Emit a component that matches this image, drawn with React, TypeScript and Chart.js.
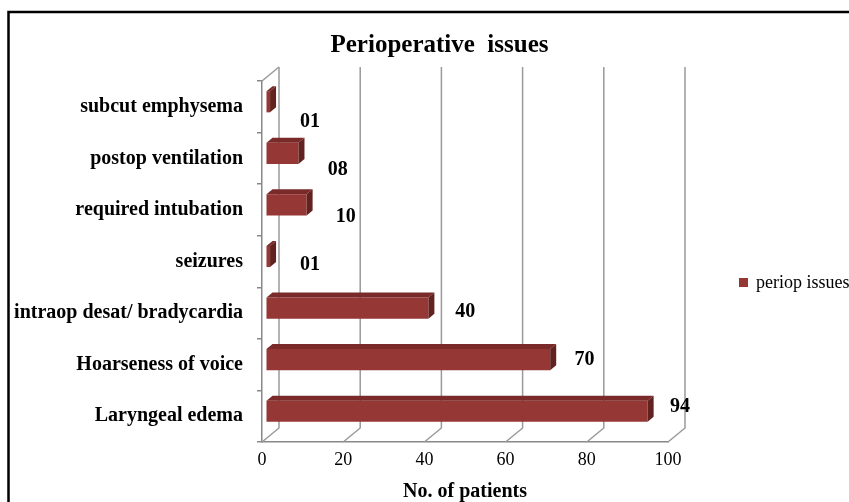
import React, { useEffect, useRef } from 'react';
import { Chart, registerables } from 'chart.js';

Chart.register(...registerables);

// ---- data ----
const categories = [
  'subcut emphysema',
  'postop ventilation',
  'required intubation',
  'seizures',
  'intraop desat/ bradycardia',
  'Hoarseness of voice',
  'Laryngeal edema',
];
const values = [1, 8, 10, 1, 40, 70, 94];
const seriesName = 'periop issues';
const xTicks = [0, 20, 40, 60, 80, 100];
const chartTitle = 'Perioperative  issues';
const xAxisTitle = 'No. of patients';

// ---- style ----
const FONT = "'Liberation Serif', 'Times New Roman', serif";
const FRONT = '#953735';
const TOPC = '#7a2b29';
const SIDE = '#612220';
const WALL = '#9a9a9a';
const AXIS = '#888888';
const DEPTH = { dx: 17, dy: -14 };
const SHIFT = { dx: 4, dy: -5 };
const BDEPTH = { dx: 6, dy: -5 };

const threeD = {
  id: 'threeD',
  beforeDraw(chart: any) {
    const { ctx, width, height } = chart;
    ctx.save();
    ctx.fillStyle = '#ffffff';
    ctx.fillRect(0, 0, width, height);
    ctx.strokeStyle = '#000000';
    ctx.lineWidth = 2.5;
    ctx.beginPath();
    ctx.moveTo(8.5, height + 5);
    ctx.lineTo(8.5, 12);
    ctx.lineTo(width + 5, 12);
    ctx.stroke();
    ctx.restore();
  },
  beforeDatasetsDraw(chart: any) {
    const { ctx, chartArea: a, scales } = chart;
    const x = scales.x;
    ctx.save();
    ctx.strokeStyle = WALL;
    ctx.lineWidth = 1.5;
    ctx.beginPath();
    ctx.moveTo(a.left, a.top);
    ctx.lineTo(a.left + DEPTH.dx, a.top + DEPTH.dy);
    ctx.stroke();
    xTicks.forEach((v) => {
      const px = x.getPixelForValue(v);
      ctx.beginPath();
      ctx.moveTo(px, a.bottom);
      ctx.lineTo(px + DEPTH.dx, a.bottom + DEPTH.dy);
      ctx.lineTo(px + DEPTH.dx, a.top + DEPTH.dy);
      ctx.stroke();
    });
    ctx.restore();
    ctx.save();
    ctx.translate(SHIFT.dx, SHIFT.dy);
  },
  afterDatasetsDraw(chart: any) {
    const { ctx, chartArea: a } = chart;
    const meta = chart.getDatasetMeta(0);
    meta.data.forEach((el: any) => {
      const { x, y, base, height } = el.getProps(['x', 'y', 'base', 'height'], true);
      const t = y - height / 2;
      const b = y + height / 2;
      ctx.fillStyle = TOPC;
      ctx.beginPath();
      ctx.moveTo(base, t);
      ctx.lineTo(x, t);
      ctx.lineTo(x + BDEPTH.dx, t + BDEPTH.dy);
      ctx.lineTo(base + BDEPTH.dx, t + BDEPTH.dy);
      ctx.closePath();
      ctx.fill();
      ctx.fillStyle = SIDE;
      ctx.beginPath();
      ctx.moveTo(x, t);
      ctx.lineTo(x + BDEPTH.dx, t + BDEPTH.dy);
      ctx.lineTo(x + BDEPTH.dx, b + BDEPTH.dy);
      ctx.lineTo(x, b);
      ctx.closePath();
      ctx.fill();
    });
    ctx.restore();

    // data labels
    ctx.save();
    ctx.fillStyle = '#000';
    ctx.font = `bold 20px ${FONT}`;
    ctx.textAlign = 'center';
    ctx.textBaseline = 'middle';
    const mid = (a.top + a.bottom) / 2;
    meta.data.forEach((el: any, i: number) => {
      const v = values[i];
      const { x, y } = el.getProps(['x', 'y'], true);
      const lx = x + SHIFT.dx + 40 - 8 * (v / 100);
      const ly = y + 3 - 0.08 * (y - mid);
      ctx.fillText(String(v).padStart(2, '0'), lx, ly);
    });
    ctx.restore();

    // legend
    ctx.save();
    ctx.fillStyle = FRONT;
    ctx.fillRect(739, 278, 9, 9);
    ctx.fillStyle = '#000';
    ctx.font = `18px ${FONT}`;
    ctx.textAlign = 'left';
    ctx.textBaseline = 'middle';
    ctx.fillText(seriesName, 756, 283);
    ctx.restore();
  },
};

export default function App() {
  const ref = useRef<HTMLCanvasElement | null>(null);
  useEffect(() => {
    if (!ref.current) return;
    const chart = new Chart(ref.current, {
      type: 'bar',
      data: {
        labels: categories,
        datasets: [
          {
            label: seriesName,
            data: values,
            backgroundColor: FRONT,
            barPercentage: 0.41,
            categoryPercentage: 1,
            yAxisID: 'y',
            xAxisID: 'x',
          },
        ],
      },
      options: {
        indexAxis: 'y',
        animation: false,
        responsive: false,
        devicePixelRatio: 1,
        events: [],
        layout: { padding: { left: 0, right: -30, top: 0, bottom: 0 } },
        plugins: {
          legend: { display: false },
          tooltip: { enabled: false },
          title: {
            display: true,
            text: chartTitle,
            color: '#000',
            font: { family: FONT, size: 25, weight: 'bold', lineHeight: 1.2 },
            padding: { top: 30.5, bottom: 20.5 },
          },
        },
        scales: {
          x: {
            min: 0,
            max: 100,
            afterBuildTicks: (s: any) => {
              s.ticks = xTicks.map((v) => ({ value: v }));
            },
            ticks: {
              color: '#000',
              font: { family: FONT, size: 18 },
              padding: 7,
              maxRotation: 0,
            },
            grid: { drawOnChartArea: false, drawTicks: false },
            border: { color: AXIS, width: 1.5 },
            title: {
              display: true,
              text: xAxisTitle,
              color: '#000',
              font: { family: FONT, size: 20, weight: 'bold', lineHeight: 1 },
              padding: 0,
            },
            afterFit: (s: any) => {
              s.height = 60;
            },
          },
          y: {
            ticks: {
              color: '#000',
              font: { family: FONT, size: 20, weight: 'bold' },
              padding: 14,
              autoSkip: false,
            },
            grid: { drawOnChartArea: false, drawTicks: true, tickLength: 5, color: AXIS, lineWidth: 1.5 },
            border: { color: AXIS, width: 1.5 },
            afterFit: (s: any) => {
              s.width = 262;
            },
          },
          yLegendSpace: {
            type: 'category',
            position: 'right',
            display: true,
            ticks: { display: false },
            grid: { display: false, drawTicks: false },
            border: { display: false },
            afterFit: (s: any) => {
              s.width = 211;
            },
          },
        },
      } as any,
      plugins: [threeD],
    });
    return () => chart.destroy();
  }, []);
  return (
    <div style={{ position: 'fixed', left: 0, top: 0, width: 849, height: 502 }}>
      <canvas ref={ref} width={849} height={502} style={{ display: 'block' }} />
    </div>
  );
}
